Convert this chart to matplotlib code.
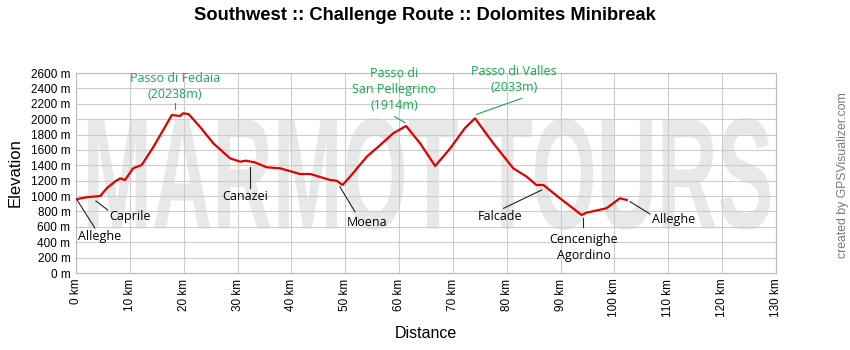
"""Elevation profile: Southwest :: Challenge Route :: Dolomites Minibreak."""

import matplotlib

matplotlib.use("Agg")
import matplotlib.pyplot as plt
from matplotlib.font_manager import FontProperties
from matplotlib.patches import PathPatch
from matplotlib.textpath import TextPath
from matplotlib.transforms import Affine2D

# profile (km, m)
dist_km = [0, 2, 4.5, 5.7, 7.2, 8.2, 9.1, 10.6, 12.2, 14.4, 16.2, 17.8, 19.3, 19.9, 20.9,
           23.0, 25.5, 28.6, 30.5, 31.5, 33.2, 35.4, 37.9, 41.6, 43.5, 47.2, 48.4, 49.5,
           50.9, 54.0, 56.5, 58.9, 61.3, 63.9, 66.7, 69.5, 72.2, 74.1, 77.5, 81.2, 83.7,
           85.5, 86.8, 89.5, 93.9, 94.8, 98.5, 101.0, 102.3]
elev_m = [958, 985, 1001, 1101, 1187, 1230, 1209, 1361, 1404, 1642, 1859, 2054, 2041, 2076, 2067,
          1902, 1686, 1491, 1447, 1460, 1439, 1374, 1361, 1287, 1287, 1209, 1200, 1144,
          1252, 1512, 1664, 1816, 1911, 1686, 1391, 1621, 1881, 2011, 1686, 1361, 1252,
          1144, 1144, 992, 754, 784, 841, 971, 949]

x_ticks = list(range(0, 131, 10))
y_ticks = list(range(0, 2601, 200))

# waypoint labels: text, text position, leader line (from, to)
town_names = ["Alleghe", "Caprile", "Canazei", "Moena", "Falcade", "Cencenighe\nAgordino", "Alleghe"]
town_text_xy = [(4.3, 480), (10.0, 740), (31.4, 1000), (54.0, 650), (78.7, 740), (94.3, 330), (111.0, 700)]
town_lines = [((0.2, 950), (3.5, 585)), ((3.7, 936), (5.9, 819)), ((32.3, 1380), (32.3, 1105)),
              ((49.0, 1122), (51.8, 797)), ((79.4, 841), (86.5, 1079)), ((94.1, 715), (94.1, 598)),
              ((102.9, 927), (106.6, 767))]

pass_names = ["Passo di Fedaia\n(20238m)", "Passo di\nSan Pellegrino\n(1914m)", "Passo di Valles\n(2033m)"]
pass_text_xy = [(18.4, 2430), (59.1, 2380), (81.3, 2510)]
pass_lines = [((18.4, 2210), (18.4, 2132)), ((59.2, 2032), (61.1, 1954)), ((74.4, 2063), (82.8, 2271))]

GREEN = "#18a850"

fig = plt.figure(figsize=(8.5, 3.5), dpi=100)
ax = fig.add_axes([76 / 850, 77 / 350, 700 / 850, 200 / 350])

# big watermark
tp = TextPath((0, 0), "MARMOT TOURS", size=100,
              prop=FontProperties(family=["Liberation Sans Narrow", "Liberation Sans"], weight="bold"))
ext = tp.get_extents()
x0, x1, y0, y1 = 2.2, 128.9, 560, 2015
tr = (Affine2D().translate(-ext.x0, -ext.y0)
      .scale((x1 - x0) / ext.width, (y1 - y0) / ext.height).translate(x0, y0))
ax.add_patch(PathPatch(tr.transform_path(tp), facecolor="#e8e8e8", edgecolor="none", zorder=0.5))

ax.plot(dist_km, elev_m, color="#e00000", lw=1.6, zorder=3)

lab_font = dict(family=["Open Sans", "DejaVu Sans"], fontsize=9, fontweight="medium")
for name, (tx, ty), (p, q) in zip(town_names, town_text_xy, town_lines):
    ax.plot([p[0], q[0]], [p[1], q[1]], color="#222222", lw=0.8, zorder=2)
    ax.text(tx, ty, name, ha="center", va="center", color="black", linespacing=1.3, **lab_font)
for name, (tx, ty), (p, q) in zip(pass_names, pass_text_xy, pass_lines):
    ax.plot([p[0], q[0]], [p[1], q[1]], color=GREEN, lw=0.8, zorder=2)
    ax.text(tx, ty, name, ha="center", va="center", color=GREEN, linespacing=1.3,
            clip_on=False, **lab_font)

ax.set_xlim(0, 130)
ax.set_ylim(0, 2600)
ax.set_xticks(x_ticks)
ax.set_xticklabels([f"{v} km" for v in x_ticks], rotation=90, family="Liberation Sans", fontsize=8.5)
ax.set_yticks(y_ticks)
ax.set_yticklabels([f"{v} m" for v in y_ticks], family="Liberation Sans", fontsize=8.5)
ax.tick_params(length=0, pad=4)
ax.grid(True, color="#cccccc", lw=0.8)
for s in ax.spines.values():
    s.set_color("#bbbbbb")
    s.set_linewidth(0.8)

ax.set_xlabel("Distance", family="Liberation Sans", fontsize=11.5, labelpad=6)
ax.set_ylabel("Elevation", family="Liberation Sans", fontsize=12, labelpad=6)
fig.text(0.5, 0.957, "Southwest :: Challenge Route :: Dolomites Minibreak", ha="center", va="center",
         family="Liberation Sans", weight="bold", fontsize=13.2)
fig.text(0.992, 0.5, "created by GPSVisualizer.com", rotation=90, ha="center", va="center",
         family="Liberation Sans", fontsize=8.8, color="#777777")

fig.savefig("out.png", dpi=100)
